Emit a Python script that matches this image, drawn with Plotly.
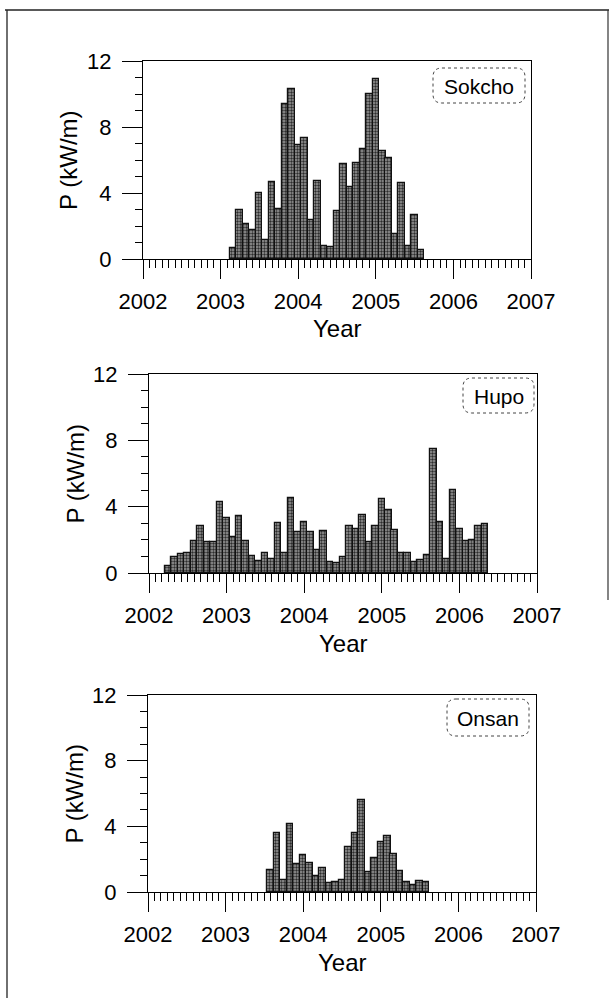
import plotly.graph_objects as go
import pandas as pd

W, H = 611, 998

# ---------------- data ----------------
stations = ["Sokcho", "Hupo", "Onsan"]

sokcho_start = "2003-03-01"
sokcho_p = [0.65, 2.98, 2.12, 1.75, 3.97, 1.17, 4.64, 3.06, 9.38, 10.28,
            6.90, 7.36, 2.36, 4.74, 0.81, 0.71, 2.88, 5.75, 4.38, 5.79,
            6.65, 9.98, 10.93, 6.55, 6.15, 1.51, 4.60, 0.81, 2.66, 0.56]

hupo_start = "2002-04-01"
hupo_p = [0.40, 0.97, 1.17, 1.21, 1.92, 2.86, 1.85, 1.85, 4.29, 3.33,
          2.16, 3.43, 1.96, 1.05, 0.75, 1.21, 0.85, 3.02, 1.21, 4.54,
          2.46, 3.08, 2.46, 1.39, 2.52, 0.69, 0.60, 0.97, 2.82, 2.66,
          3.47, 1.85, 2.86, 4.44, 3.81, 2.62, 1.21, 1.21, 0.65, 0.81,
          1.11, 7.46, 3.06, 0.87, 5.00, 2.66, 1.92, 1.98, 2.86, 2.96]

onsan_start = "2003-08-01"
onsan_p = [1.31, 3.59, 0.75, 4.13, 1.71, 2.24, 1.77, 0.99, 1.47, 0.54,
           0.58, 0.75, 2.72, 3.59, 5.63, 1.19, 2.06, 3.02, 3.39, 2.34,
           1.25, 0.60, 0.44, 0.69, 0.63]

year_ticks = ["2002", "2003", "2004", "2005", "2006", "2007"]
y_ticks = [0, 4, 8, 12]
x_title = "Year"
y_title = "P (kW/m)"

series = [(sokcho_start, sokcho_p), (hupo_start, hupo_p), (onsan_start, onsan_p)]

# ---------------- layout geometry (pixels) ----------------
# (left, right, y_zero, y_top) of each plot area
panels = [(143, 531, 259, 61), (149, 537, 573, 374), (148, 536, 892, 695)]
boxes = [(433, 525, 68, 103), (463, 534, 378, 413), (447, 529, 699, 736)]

FONT = "Liberation Sans, Arial, sans-serif"


def px(x):
    return x / W


def py(y):
    return 1 - y / H


fig = go.Figure()
layout = dict(
    width=W, height=H,
    margin=dict(l=0, r=0, t=0, b=0),
    paper_bgcolor="white", plot_bgcolor="white",
    showlegend=False,
    font=dict(family=FONT, color="black"),
    bargap=0,
)

annotations = []
shapes = []
month_ms = 30.4 * 86400000

for i, ((start, vals), (l, r, y0, yt)) in enumerate(zip(series, panels)):
    n = "" if i == 0 else str(i + 1)
    dates = pd.date_range(start, periods=len(vals), freq="MS")
    fig.add_trace(go.Bar(
        x=dates, y=vals, xaxis="x" + n, yaxis="y" + n,
        width=[month_ms] * len(vals),
        marker=dict(
            color="#8c8c8c",
            line=dict(color="#111111", width=1.2),
            pattern=dict(shape=".", fgcolor="#2e2e2e", bgcolor="#9c9c9c",
                         size=3, solidity=0.5, fillmode="replace"),
        ),
    ))
    layout["xaxis" + n] = dict(
        domain=[px(l), px(r)], anchor="y" + n, type="date",
        range=["2002-01-01", "2007-01-01"],
        tickvals=[f"{t}-01-01" for t in year_ticks], ticktext=year_ticks,
        ticks="outside", ticklen=19, tickwidth=1, tickcolor="black",
        minor=dict(dtick="M1", ticks="outside", ticklen=8, tickwidth=1,
                   tickcolor="black", showgrid=False),
        showline=True, linecolor="black", linewidth=1, mirror=True,
        showgrid=False, zeroline=False,
        tickfont=dict(family=FONT, size=22, color="black"),
        ticklabelstandoff=4, automargin=False, fixedrange=True,
    )
    layout["yaxis" + n] = dict(
        domain=[py(y0), py(yt)], anchor="x" + n,
        range=[0, 12], tickvals=y_ticks,
        ticks="outside", ticklen=20, tickwidth=1, tickcolor="black",
        minor=dict(dtick=1, ticks="outside", ticklen=7, tickwidth=1,
                   tickcolor="black", showgrid=False),
        showline=True, linecolor="black", linewidth=1, mirror=True,
        showgrid=False, zeroline=False,
        tickfont=dict(family=FONT, size=22, color="black"),
        ticklabelstandoff=6, automargin=False, fixedrange=True,
    )
    # axis titles
    annotations.append(dict(
        text=x_title, xref="paper", yref="paper",
        x=px((l + r) / 2), y=py(y0 + 70), xanchor="center", yanchor="middle",
        showarrow=False, font=dict(family=FONT, size=24, color="black")))
    annotations.append(dict(
        text=y_title, xref="paper", yref="paper",
        x=px(l - 74), y=py((y0 + yt) / 2), xanchor="center", yanchor="middle",
        textangle=-90, showarrow=False,
        font=dict(family=FONT, size=24, color="black")))
    # station label box (rounded, dotted)
    bx0, bx1, by0, by1 = boxes[i]
    rr = 9
    path = (f"M {px(bx0 + rr)},{py(by0)} L {px(bx1 - rr)},{py(by0)} "
            f"Q {px(bx1)},{py(by0)} {px(bx1)},{py(by0 + rr)} "
            f"L {px(bx1)},{py(by1 - rr)} "
            f"Q {px(bx1)},{py(by1)} {px(bx1 - rr)},{py(by1)} "
            f"L {px(bx0 + rr)},{py(by1)} "
            f"Q {px(bx0)},{py(by1)} {px(bx0)},{py(by1 - rr)} "
            f"L {px(bx0)},{py(by0 + rr)} "
            f"Q {px(bx0)},{py(by0)} {px(bx0 + rr)},{py(by0)} Z")
    shapes.append(dict(type="path", path=path, xref="paper", yref="paper",
                       line=dict(color="#444444", width=1, dash="dot")))
    annotations.append(dict(
        text=stations[i], xref="paper", yref="paper",
        x=px((bx0 + bx1) / 2), y=py((by0 + by1) / 2 + 1),
        xanchor="center", yanchor="middle", showarrow=False,
        font=dict(family=FONT, size=21, color="black")))

# outer frame of the scanned figure
shapes.append(dict(type="line", xref="paper", yref="paper",
                   x0=px(5), x1=px(609), y0=py(10), y1=py(10),
                   line=dict(color="#222222", width=1.3)))
shapes.append(dict(type="line", xref="paper", yref="paper",
                   x0=px(7), x1=px(7), y0=py(10), y1=0,
                   line=dict(color="#222222", width=1.3)))
shapes.append(dict(type="line", xref="paper", yref="paper",
                   x0=px(608), x1=px(608), y0=py(10), y1=py(600),
                   line=dict(color="#333333", width=1.2)))

layout["annotations"] = annotations
layout["shapes"] = shapes
fig.update_layout(**layout)

fig.write_html("out.html")
